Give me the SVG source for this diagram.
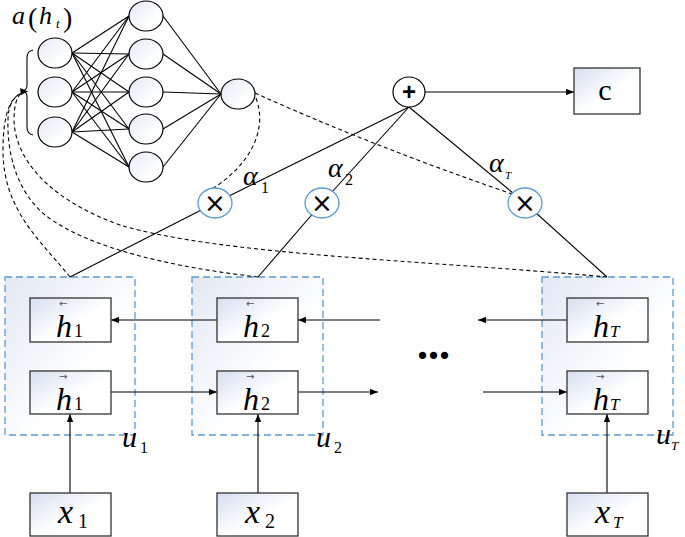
<svg xmlns="http://www.w3.org/2000/svg" width="685" height="537" viewBox="0 0 685 537" font-family="Liberation Serif, Times New Roman, serif">
<defs>
<linearGradient id="gb" x1="0" y1="0" x2="1" y2="1"><stop offset="0" stop-color="#d6dff0"/><stop offset="0.55" stop-color="#ffffff"/></linearGradient>
<linearGradient id="gu" x1="0" y1="0" x2="1" y2="1"><stop offset="0" stop-color="#e2e8f4"/><stop offset="0.6" stop-color="#ffffff"/></linearGradient>
<linearGradient id="gc" x1="0" y1="0" x2="1" y2="1"><stop offset="0" stop-color="#e4e9f4"/><stop offset="0.7" stop-color="#ffffff"/></linearGradient>
<marker id="ah" viewBox="0 0 10 8" refX="10" refY="4" markerWidth="8" markerHeight="6.5" markerUnits="userSpaceOnUse" orient="auto"><path d="M0,0 L10,4 L0,8 z" fill="#000"/></marker>
<style>
.box{fill:url(#gb);stroke:#333;stroke-width:1.3}
.ubox{fill:url(#gu);stroke:#5b9bd5;stroke-width:1.3;stroke-dasharray:7,4}
.nn{fill:url(#gc);stroke:#000;stroke-width:1.2}
.mul{fill:#fff;stroke:#5b9bd5;stroke-width:1.3}
.ln{stroke:#000;stroke-width:1.1;fill:none}
.dash{stroke:#000;stroke-width:1.1;fill:none;stroke-dasharray:4,3}
.arr{stroke:#000;stroke-width:1.1;fill:none;marker-end:url(#ah)}
.m{font-style:italic;font-size:32px}
.sub{font-size:18px;font-style:normal}
.subi{font-size:17px;font-style:italic}
.acc{font-family:"DejaVu Sans",sans-serif;font-size:10px;fill:#555;font-style:normal}
.xm{font-style:italic;font-size:34px}
.xs{font-size:20px;font-style:normal}
.um{font-style:italic;font-size:30px}
.us{font-size:16px;font-style:normal}
.al{font-style:italic;font-size:28px}
.sym{font-family:"Liberation Sans",Arial,sans-serif}
.x{font-family:"DejaVu Sans",sans-serif;font-size:26px;text-anchor:middle}
</style>
</defs>

<g id="u1">
  <rect class="ubox" x="5" y="277" width="130" height="158"/>
  <text x="122" y="447"><tspan class="um">u</tspan><tspan class="us" x="140" y="453">1</tspan></text>
</g>
<g id="u2">
  <rect class="ubox" x="192" y="277" width="131" height="158"/>
  <text x="316" y="447"><tspan class="um">u</tspan><tspan class="us" x="334" y="453">2</tspan></text>
</g>
<g id="uT">
  <rect class="ubox" x="542" y="277" width="131" height="158"/>
  <text x="656" y="444"><tspan class="um" font-size="26">u</tspan><tspan x="671" y="450" font-size="13" font-style="italic">T</tspan></text>
</g>

<g id="connectors">
  <g class="ln">
    <line x1="72" y1="53" x2="129" y2="16"/><line x1="72" y1="53" x2="129" y2="54"/><line x1="72" y1="53" x2="129" y2="92"/><line x1="72" y1="53" x2="129" y2="129"/><line x1="72" y1="53" x2="129" y2="167"/>
    <line x1="72" y1="92" x2="129" y2="16"/><line x1="72" y1="92" x2="129" y2="54"/><line x1="72" y1="92" x2="129" y2="92"/><line x1="72" y1="92" x2="129" y2="129"/><line x1="72" y1="92" x2="129" y2="167"/>
    <line x1="72" y1="132" x2="129" y2="16"/><line x1="72" y1="132" x2="129" y2="54"/><line x1="72" y1="132" x2="129" y2="92"/><line x1="72" y1="132" x2="129" y2="129"/><line x1="72" y1="132" x2="129" y2="167"/>
    <line x1="163" y1="16" x2="221" y2="94"/><line x1="163" y1="54" x2="221" y2="94"/><line x1="163" y1="92" x2="221" y2="94"/><line x1="163" y1="129" x2="221" y2="94"/><line x1="163" y1="167" x2="221" y2="94"/>
    <path d="M33 50 Q27 51 27 58 L27 85 Q27 90 23 91 Q27 92 27 97 L27 127 Q27 134 33 135"/>
    <line x1="409" y1="107" x2="215" y2="203"/>
    <line x1="409" y1="107" x2="322" y2="203"/>
    <line x1="409" y1="107" x2="525" y2="203"/>
    <line x1="215" y1="203" x2="70" y2="277"/>
    <line x1="322" y1="203" x2="258" y2="277"/>
    <line x1="525" y1="203" x2="607" y2="277"/>
  </g>
  <path class="dash" d="M256 98 C268 130 250 165 212 189"/>
  <path class="dash" d="M255 93 Q370 145 512 194"/>
  <path class="dash" d="M70 277 C40 240 3 210 3 150 C3 115 10 97 22 93"/>
  <path class="dash" d="M258 277 C180 268 90 250 45 215 C15 190 7 150 8 120 C8 105 14 96 22 93"/>
  <path class="dash" d="M607 277 C420 260 220 255 120 225 C50 200 15 160 14 120 C14 105 17 96 22 93"/>
  <path d="M28 91.5 L20 88 L21 95 z" fill="#000"/>
  <line class="arr" x1="425" y1="92" x2="574" y2="92"/>
  <line class="arr" x1="217" y1="320" x2="111" y2="320"/>
  <line class="arr" x1="380" y1="320" x2="298" y2="320"/>
  <line class="arr" x1="567" y1="320" x2="478" y2="320"/>
  <line class="arr" x1="111" y1="392" x2="217" y2="392"/>
  <line class="arr" x1="298" y1="392" x2="378" y2="392"/>
  <line class="arr" x1="483" y1="392" x2="567" y2="392"/>
  <line class="arr" x1="70" y1="493" x2="70" y2="414"/>
  <line class="arr" x1="258" y1="493" x2="258" y2="414"/>
  <line class="arr" x1="607" y1="493" x2="607" y2="414"/>
</g>

<g id="label-a">
  <text y="24"><tspan font-style="italic" font-size="26" x="12">a</tspan><tspan x="28" y="27" font-size="28">(</tspan><tspan font-style="italic" x="39" y="24" font-size="26">h</tspan><tspan x="56" y="28" font-size="13" font-style="italic">t</tspan><tspan x="63" y="27" font-size="28">)</tspan></text>
</g>

<g id="nn-input">
  <ellipse class="nn" cx="55" cy="53" rx="17" ry="15"/>
  <ellipse class="nn" cx="55" cy="92" rx="17" ry="15"/>
  <ellipse class="nn" cx="55" cy="132" rx="17" ry="15"/>
</g>
<g id="nn-hidden">
  <ellipse class="nn" cx="146" cy="16" rx="17" ry="15"/>
  <ellipse class="nn" cx="146" cy="54" rx="17" ry="15"/>
  <ellipse class="nn" cx="146" cy="92" rx="17" ry="15"/>
  <ellipse class="nn" cx="146" cy="129" rx="17" ry="15"/>
  <ellipse class="nn" cx="146" cy="167" rx="17" ry="15"/>
</g>
<g id="nn-output">
  <ellipse class="nn" cx="238" cy="94" rx="17" ry="15"/>
</g>

<g id="plus">
  <ellipse cx="409" cy="92" rx="16" ry="15" fill="#fff" stroke="#000" stroke-width="1.2"/>
  <text class="sym" x="409" y="100" font-size="24" font-weight="bold" text-anchor="middle">+</text>
</g>
<g id="c">
  <rect class="box" x="574" y="68" width="66" height="46"/>
  <text x="605" y="100" font-size="30" text-anchor="middle">c</text>
</g>

<g id="mul1">
  <ellipse class="mul" cx="215" cy="203" rx="17" ry="15"/>
  <text class="x" x="215" y="212">×</text>
</g>
<g id="mul2">
  <ellipse class="mul" cx="322" cy="203" rx="17" ry="15"/>
  <text class="x" x="322" y="212">×</text>
</g>
<g id="mulT">
  <ellipse class="mul" cx="525" cy="203" rx="17" ry="15"/>
  <text class="x" x="525" y="212">×</text>
</g>

<g id="alphas">
  <text x="243" y="185"><tspan class="al">α</tspan><tspan class="us" x="261" y="193">1</tspan></text>
  <text x="328" y="177"><tspan class="al">α</tspan><tspan class="us" x="345" y="185">2</tspan></text>
  <text x="489" y="172"><tspan class="al" font-size="24">α</tspan><tspan x="505" y="179" font-size="11" font-style="italic">T</tspan></text>
</g>

<g id="hb1">
  <rect class="box" x="30" y="298" width="81" height="44"/>
  <text x="56" y="337"><tspan class="m">h</tspan><tspan class="sub" x="74" y="337">1</tspan><tspan class="acc" x="59" y="307">←</tspan></text>
</g>
<g id="hf1">
  <rect class="box" x="30" y="371" width="81" height="43"/>
  <text x="56" y="410"><tspan class="m">h</tspan><tspan class="sub" x="74" y="410">1</tspan><tspan class="acc" x="59" y="380">→</tspan></text>
</g>
<g id="x1">
  <rect class="box" x="30" y="493" width="81" height="43"/>
  <text x="58" y="523"><tspan class="xm">x</tspan><tspan class="xs" x="78" y="528">1</tspan></text>
</g>

<g id="hb2">
  <rect class="box" x="217" y="298" width="81" height="44"/>
  <text x="243" y="337"><tspan class="m">h</tspan><tspan class="sub" x="261" y="337">2</tspan><tspan class="acc" x="246" y="307">←</tspan></text>
</g>
<g id="hf2">
  <rect class="box" x="217" y="371" width="81" height="43"/>
  <text x="243" y="410"><tspan class="m">h</tspan><tspan class="sub" x="261" y="410">2</tspan><tspan class="acc" x="246" y="380">→</tspan></text>
</g>
<g id="x2">
  <rect class="box" x="217" y="493" width="81" height="43"/>
  <text x="245" y="523"><tspan class="xm">x</tspan><tspan class="xs" x="265" y="528">2</tspan></text>
</g>

<g id="hbT">
  <rect class="box" x="567" y="298" width="81" height="44"/>
  <text x="593" y="337"><tspan class="m">h</tspan><tspan class="subi" x="610" y="337">T</tspan><tspan class="acc" x="596" y="307">←</tspan></text>
</g>
<g id="hfT">
  <rect class="box" x="567" y="371" width="81" height="43"/>
  <text x="593" y="410"><tspan class="m">h</tspan><tspan class="subi" x="610" y="410">T</tspan><tspan class="acc" x="596" y="380">→</tspan></text>
</g>
<g id="xT">
  <rect class="box" x="567" y="493" width="81" height="43"/>
  <text x="595" y="523"><tspan class="xm">x</tspan><tspan class="subi" x="613" y="528">T</tspan></text>
</g>

<g id="ellipsis">
  <text x="417" y="359" font-size="44" font-weight="bold">...</text>
</g>
</svg>
